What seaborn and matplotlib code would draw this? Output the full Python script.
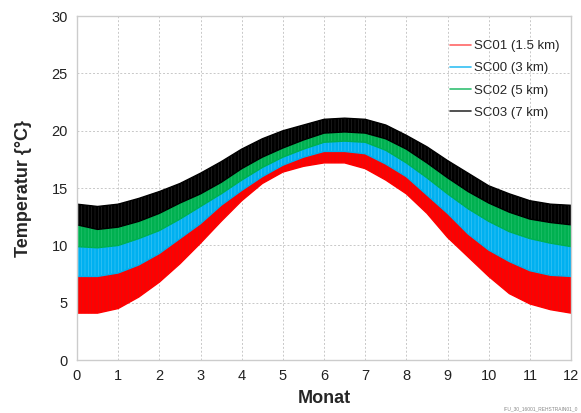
import numpy as np
import pandas as pd
import matplotlib
matplotlib.use("Agg")
import matplotlib.pyplot as plt
import seaborn as sns

# month positions (half-month resolution)
months = [0, 0.5, 1, 1.5, 2, 2.5, 3, 3.5, 4, 4.5, 5, 5.5, 6, 6.5, 7, 7.5, 8, 8.5, 9, 9.5, 10, 10.5, 11, 11.5, 12]

# visible envelopes of the daily oscillation bands (°C)
sc03_top = [13.6, 13.4, 13.6, 14.1, 14.7, 15.4, 16.3, 17.3, 18.4, 19.3, 20.0, 20.5, 21.0, 21.1, 21.0, 20.5, 19.6, 18.6, 17.4, 16.3, 15.2, 14.5, 13.9, 13.6, 13.5]
sc03_low = [11.8, 11.4, 11.6, 12.1, 12.8, 13.7, 14.5, 15.5, 16.7, 17.7, 18.5, 19.2, 19.8, 19.9, 19.8, 19.3, 18.4, 17.2, 15.9, 14.7, 13.7, 12.9, 12.3, 12.0, 11.8]
sc02_low = [9.9, 9.8, 10.0, 10.6, 11.3, 12.3, 13.4, 14.5, 15.7, 16.8, 17.7, 18.4, 19.0, 19.1, 19.0, 18.3, 17.2, 15.9, 14.5, 13.2, 12.1, 11.2, 10.6, 10.2, 9.9]
sc00_low = [7.3, 7.3, 7.6, 8.3, 9.3, 10.6, 11.9, 13.5, 14.8, 16.0, 17.0, 17.7, 18.2, 18.2, 18.0, 17.1, 16.0, 14.4, 12.8, 11.0, 9.6, 8.6, 7.8, 7.4, 7.3]
sc01_low = [4.1, 4.1, 4.5, 5.5, 6.8, 8.4, 10.2, 12.1, 13.9, 15.4, 16.4, 16.9, 17.2, 17.2, 16.7, 15.7, 14.5, 12.8, 10.7, 9.0, 7.3, 5.8, 4.9, 4.4, 4.1]

series_names = ["SC01 (1.5 km)", "SC00 (3 km)", "SC02 (5 km)", "SC03 (7 km)"]
series_colors = ["#FF0000", "#00B0F0", "#00B050", "#000000"]
hatch_colors = ["#D01818", "#50CCF8", "#30C878", "#303030"]
legend_colors = ["#FF6666", "#33C0F3", "#33C073", "#333333"]

x_ticks = list(range(0, 13))
y_ticks = [0, 5, 10, 15, 20, 25, 30]

lows = [sc01_low, sc00_low, sc02_low, sc03_low]
highs = [sc00_low, sc02_low, sc03_low, sc03_top]

rows = []
for name, lo, hi in zip(series_names, lows, highs):
    for m, a, b in zip(months, lo, hi):
        rows.append({"Monat": m, "low": a, "high": b, "Serie": name})
df = pd.DataFrame(rows)

sns.set_style("white")
plt.rcParams["font.family"] = ["Liberation Sans", "DejaVu Sans"]
plt.rcParams["hatch.linewidth"] = 0.35

fig = plt.figure(figsize=(5.81, 4.13), dpi=100)
ax = fig.add_axes([0.1325, 0.128, 0.8505, 0.833])

for name, col, hcol, lcol in zip(series_names, series_colors, hatch_colors, legend_colors):
    d = df[df["Serie"] == name]
    ax.fill_between(d["Monat"], d["low"], d["high"], facecolor=col, edgecolor=hcol,
                    hatch="|||||", lw=0, zorder=2)
    sns.lineplot(data=d, x="Monat", y="low", color=col, lw=1, ax=ax, zorder=2)
    sns.lineplot(data=d, x="Monat", y="high", color=col, lw=1, ax=ax, zorder=2)
    ax.plot([], [], color=lcol, lw=1.2, label=name)

ax.set_xlim(0, 12)
ax.set_ylim(0, 30)
ax.set_xticks(x_ticks)
ax.set_yticks(y_ticks)
ax.tick_params(axis="both", labelsize=10.5, colors="#222222", length=3, color="#bbbbbb")
ax.grid(True, color="#c8c8c8", ls=(0, (2, 2)), lw=0.7, zorder=0)
for s in ax.spines.values():
    s.set_color("#cccccc")
    s.set_linewidth(1)
ax.set_xlabel("Monat", fontsize=13, fontweight="bold", labelpad=5)
ax.set_ylabel("Temperatur {°C}", fontsize=13, fontweight="bold", labelpad=14)

handles, labels = ax.get_legend_handles_labels()
leg = ax.legend(handles[-4:], labels[-4:], loc="upper right", bbox_to_anchor=(1.0, 0.965),
                frameon=False, fontsize=9.5, handlelength=1.6, handletextpad=0.2,
                labelspacing=0.75)

fig.text(0.995, 0.005, "IFU_30_16001_REHSTRAIN01_0", fontsize=3.5, color="#888888",
         ha="right", va="bottom")

fig.savefig("out.png", dpi=100)
